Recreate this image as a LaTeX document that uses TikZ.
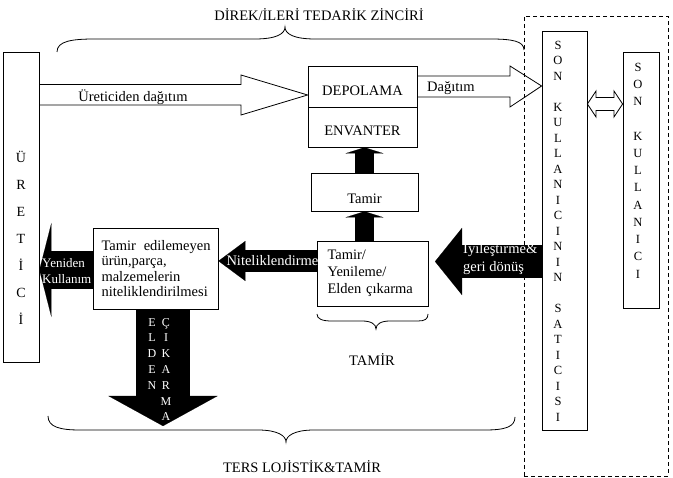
\documentclass[tikz,border=0pt]{standalone}
\usepackage{fontspec}
\setmainfont{Liberation Serif}
\usetikzlibrary{arrows.meta}

\tikzset{
	kutu/.style={draw, line width=0.8pt, inner sep=0pt},
	harf/.style={inner sep=0pt, align=center},
	beyazyazi/.style={text=white, inner sep=0pt},
	siyahok/.style={draw=black, line width=#1},
	bosok/.style={draw, line width=0.8pt, line join=miter},
	parantez/.style={draw, line width=0.8pt},
}

\begin{document}
\begin{tikzpicture}[x=1pt, y=-1pt, font=\fontsize{14.5}{17}\selectfont]
		\useasboundingbox (0,0) rectangle (673,478);
		
		% kesikli bolge
		\node (bolge) at (596,246) [draw, dash pattern=on 4pt off 3pt, line width=0.8pt, minimum width=144pt, minimum height=460pt] {};
		
		% kutular
		\node (uretici) at (21,207) [kutu, minimum width=36pt, minimum height=310pt] {};
		\node (ureticiyazi) at (21,237.6) [harf, font=\fontsize{14}{27}\selectfont] {Ü\\R\\E\\T\\İ\\C\\İ};
		\node (depolama) at (362.5,86.5) [kutu, minimum width=109pt, minimum height=41pt, text height=17.6pt, text depth=0pt] {DEPOLAMA};
		\node (envanter) at (362.5,127) [kutu, minimum width=109pt, minimum height=40pt, text height=17.6pt, text depth=0pt] {ENVANTER};
		\node (tamir) at (364.5,192) [kutu, minimum width=107pt, minimum height=38pt, text height=23.5pt, text depth=0pt] {Tamir};
		\node (yenileme) at (372.5,273.5) [kutu, minimum width=111pt, minimum height=65pt, align=left, text width=90pt, inner xsep=10.5pt] {Tamir/\\Yenileme/\\Elden çıkarma};
		\node (nitelik) at (155.5,268.5) [kutu, minimum width=125pt, minimum height=81pt, align=left, text width=108pt, inner xsep=8.5pt, font=\fontsize{14.5}{15.3}\selectfont] {\mbox{Tamir\hspace{3pt} edilemeyen}\\ürün,parça,\\malzemelerin\\niteliklendirilmesi};
		\node (satici) at (564.5,230.5) [kutu, minimum width=45pt, minimum height=399pt] {};
		\node (saticiyazi) at (558,231) [harf, font=\fontsize{12.5}{15.5}\selectfont] {S\\O\\N\\[15.5pt]K\\U\\L\\L\\A\\N\\I\\C\\I\\N\\I\\N\\[15.5pt]S\\A\\T\\I\\C\\I\\S\\I};
		\node (kullanici) at (641,180) [kutu, minimum width=36pt, minimum height=256pt] {};
		\node (kullaniciyazi) at (638,170.5) [harf, font=\fontsize{12.5}{17.25}\selectfont] {S\\O\\N\\[17.25pt]K\\U\\L\\L\\A\\N\\I\\C\\I};
		
		% basliklar
		\node (ileri) at (319,15) {DİREK/İLERİ TEDARİK ZİNCİRİ};
		\node (tamirbaslik) at (372,360) {TAMİR};
		\node (ters) at (302,467) {TERS LOJİSTİK\&TAMİR};
		
		% parantezler
		\draw [parantez] (57,52) .. controls (57,41) and (72,39) .. (95,39) -- (255,39) .. controls (276,39) and (285,34) .. (285,27) .. controls (285,34) and (294,39) .. (315,39) -- (490,39) .. controls (512,39) and (524,41) .. (524,50);
		\draw [parantez] (48,416) .. controls (48,427) and (60,430) .. (80,430) -- (258,430) .. controls (278,430) and (286,436) .. (286,442) .. controls (286,436) and (294,430) .. (314,430) -- (485,430) .. controls (505,430) and (515,427) .. (515,417);
		\draw [parantez] (317,314) .. controls (317,319) and (322,321) .. (332,321) -- (362,321) .. controls (371,321) and (376,324) .. (376,329) .. controls (376,324) and (381,321) .. (390,321) -- (418,321) .. controls (425,321) and (428,319) .. (428,314);
		
		% bos oklar
		\draw [bosok] (uretici.east |- 0,84.5) -- (241,84.5) -- (241,75) -- (depolama.west |- 0,95) -- (241,115) -- (241,105) -- (uretici.east |- 0,105);
		\node (uretimyazi) at (133,97.5) {Üreticiden dağıtım};
		\draw [bosok] (depolama.east |- 0,76) -- (510,76) -- (510,66) -- (satici.west |- 0,86) -- (510,107) -- (510,97) -- (depolama.east |- 0,97);
		\node (dagitimyazi) at (427,88.5) [anchor=west, inner sep=0pt] {Dağıtım};
		\draw [bosok] (satici.east |- 0,104) -- (596,91) -- (596,97.5) -- (614,97.5) -- (614,91) -- (kullanici.west |- 0,104) -- (614,117) -- (614,110.5) -- (596,110.5) -- (596,117) -- cycle;
		
		% siyah oklar
		\coordinate (iyiuc) at (435,261.5);
		\coordinate (atik) at (163,426);
		\draw [siyahok=19pt, -{Triangle[length=6pt, width=38pt, line width=0.1pt]}] (tamir.north) -- (tamir.north |- envanter.south);
		\draw [siyahok=19pt, -{Triangle[length=6pt, width=38pt, line width=0.1pt]}] (yenileme.north -| tamir.north) -- (tamir.south);
		\draw [siyahok=33pt, -{Triangle[length=27pt, width=67pt, line width=0.1pt]}] (satici.west |- iyiuc) -- (iyiuc);
		\draw [siyahok=22pt, -{Triangle[length=27pt, width=40pt, line width=0.1pt]}] (yenileme.west |- 0,261) -- (nitelik.east |- 0,261) node[pos=0.45, beyazyazi] {Niteliklendirme};
		\draw [siyahok=38pt, -{Triangle[length=12pt, width=94pt, line width=0.1pt]}] (nitelik.west |- 0,270) -- (uretici.east |- 0,270);
		\draw [siyahok=54pt, -{Triangle[length=30pt, width=109pt, line width=0.1pt]}] (nitelik.south -| atik) -- (atik);
		
		% ok yazilari
		\node (iyiyazi) at (463,258.4) [beyazyazi, anchor=west, align=left, font=\fontsize{14.5}{18}\selectfont] {İyileştirme\&\\geri dönüş};
		\node (yenidenyazi) at (42,271) [beyazyazi, anchor=west, align=left, font=\fontsize{13}{16}\selectfont] {Yeniden\\Kullanım};
		\node (eldenyazi) at (152,318) [beyazyazi, harf, anchor=north, font=\fontsize{12}{15.8}\selectfont] {E\\L\\D\\E\\N};
		\node (cikarmayazi) at (166,318) [beyazyazi, harf, anchor=north, font=\fontsize{12}{15.8}\selectfont] {Ç\\I\\K\\A\\R\\M\\A};
\end{tikzpicture}
\end{document}
